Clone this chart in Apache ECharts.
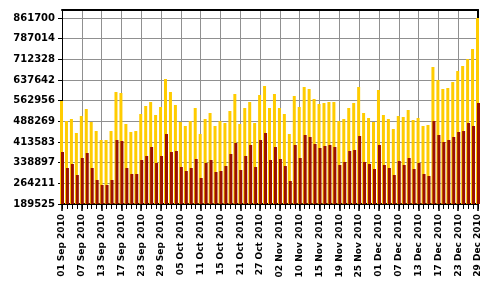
<!DOCTYPE html>
<html>
<head>
<meta charset="utf-8">
<script src="https://cdn.jsdelivr.net/npm/echarts@6/dist/echarts.min.js"></script>
<style>html,body{margin:0;padding:0;background:#fff}#c{width:495px;height:300px}</style>
</head>
<body>
<div id="c"></div>
<script>
var dates = [
 '01 Sep 2010','02 Sep 2010','03 Sep 2010','06 Sep 2010','07 Sep 2010','08 Sep 2010','09 Sep 2010','10 Sep 2010',
 '13 Sep 2010','14 Sep 2010','15 Sep 2010','16 Sep 2010','17 Sep 2010','20 Sep 2010','21 Sep 2010','22 Sep 2010',
 '23 Sep 2010','24 Sep 2010','27 Sep 2010','28 Sep 2010','29 Sep 2010','30 Sep 2010','01 Oct 2010','04 Oct 2010',
 '05 Oct 2010','06 Oct 2010','07 Oct 2010','08 Oct 2010','11 Oct 2010','12 Oct 2010','13 Oct 2010','14 Oct 2010',
 '15 Oct 2010','18 Oct 2010','19 Oct 2010','20 Oct 2010','21 Oct 2010','22 Oct 2010','25 Oct 2010','26 Oct 2010',
 '27 Oct 2010','28 Oct 2010','29 Oct 2010','01 Nov 2010','02 Nov 2010','03 Nov 2010','04 Nov 2010','05 Nov 2010',
 '10 Nov 2010','11 Nov 2010','12 Nov 2010','13 Nov 2010','15 Nov 2010','16 Nov 2010','17 Nov 2010','18 Nov 2010',
 '19 Nov 2010','22 Nov 2010','23 Nov 2010','24 Nov 2010','25 Nov 2010','26 Nov 2010','29 Nov 2010','30 Nov 2010',
 '01 Dec 2010','02 Dec 2010','03 Dec 2010','06 Dec 2010','07 Dec 2010','08 Dec 2010','09 Dec 2010','10 Dec 2010',
 '13 Dec 2010','14 Dec 2010','15 Dec 2010','16 Dec 2010','17 Dec 2010','20 Dec 2010','21 Dec 2010','22 Dec 2010',
 '23 Dec 2010','24 Dec 2010','27 Dec 2010','28 Dec 2010','29 Dec 2010'
];
var seriesYellow = [
 561700,489500,496700,446100,507500,532800,485900,453300,420800,420800,
 453300,594300,590700,478600,449700,453300,514800,543700,558100,511200,
 540100,641300,594300,547300,485900,471400,489500,536500,442500,496700,
 518400,471400,489500,482200,525600,587000,478600,536500,558100,482200,
 583400,616000,536500,587000,536500,514800,442500,579800,540100,612300,
 605100,569000,550900,554500,558100,558100,489500,496700,536500,554500,
 612300,518400,500300,485900,601500,511200,496700,460600,507500,503900,
 529200,493100,500300,471400,475000,684600,637600,605100,608700,630400,
 670200,688200,713500,749700,861700
];
var seriesRed = [
 377400,319600,334100,294300,355800,373800,319600,276300,258200,258200,
 276300,420800,417200,319600,297900,297900,348500,363000,395500,337700,
 363000,442500,377400,381100,323200,308800,319600,352100,283500,337700,
 348500,305200,308800,326800,370200,410000,312400,363000,402700,323200,
 420800,446100,348500,395500,352100,326800,272600,402700,355800,438900,
 431700,406400,391900,399100,402700,395500,330500,341300,381100,384700,
 435300,341300,334100,316000,402700,330500,319600,294300,344900,330500,
 355800,316000,337700,297900,290700,489500,438900,413600,420800,431700,
 449700,453300,482200,471400,554500
];
var yTicks = [189525,264211,338897,413583,488269,562956,637642,712328,787014,861700];

var chart = echarts.init(document.getElementById('c'), null, {renderer:'canvas'});
var font = 'DejaVu Sans, Verdana, sans-serif';
var gridColor = '#909090';
chart.setOption({
  animation: false,
  grid: {left: 62, right: 17, top: 10, bottom: 96, show: false},
  xAxis: [{
    type: 'category', data: dates, boundaryGap: false, position: 'bottom',
    axisLine: {show: true, lineStyle: {color: '#000', width: 2}},
    axisTick: {show: true, interval: 0, length: 5, lineStyle: {color: '#000', width: 1}},
    axisLabel: {show: false},
    splitLine: {show: false}
  }, {
    type: 'category', data: dates, boundaryGap: false, position: 'bottom',
    axisLine: {show: false},
    axisTick: {show: true, interval: 3, length: 7, lineStyle: {color: '#000', width: 1.5}},
    axisLabel: {show: true, interval: 3, rotate: 90, margin: 10, color: '#000', fontFamily: font, fontWeight: 'bold', fontSize: 9},
    splitLine: {show: true, interval: 3, lineStyle: {color: gridColor, width: 1, opacity: 1}}
  }, {
    type: 'category', data: dates, boundaryGap: false, position: 'top',
    axisLine: {show: true, lineStyle: {color: '#000', width: 2}},
    axisTick: {show: false}, axisLabel: {show: false}, splitLine: {show: false}
  }],
  yAxis: [{
    type: 'value', min: 189525, max: 890600, position: 'left',
    axisLine: {show: true, lineStyle: {color: '#000', width: 1}},
    axisTick: {show: true, length: 4, customValues: yTicks, lineStyle: {color: '#000'}},
    axisLabel: {show: true, customValues: yTicks, margin: 7, color: '#000', fontFamily: font, fontWeight: 'bold', fontSize: 10,
      formatter: function(v){ return String(Math.round(v)); }},
    splitLine: {show: true, lineStyle: {color: gridColor, width: 1, opacity: 1}}
  }, {
    type: 'value', min: 189525, max: 890600, position: 'right',
    axisLine: {show: true, lineStyle: {color: '#000', width: 2}},
    axisTick: {show: false}, axisLabel: {show: false}, splitLine: {show: false}
  }],
  series: [{
    type: 'bar', name: 'A', data: seriesYellow, xAxisIndex: 0, barWidth: 3, barGap: '-67%', clip: true, z: 2,
    itemStyle: {color: '#FFCC00'}
  }, {
    type: 'bar', name: 'B', data: seriesRed, xAxisIndex: 0, barWidth: 3, barGap: '-67%', clip: true, z: 2,
    itemStyle: {color: '#9C1000'}
  }]
});
</script>
</body>
</html>
